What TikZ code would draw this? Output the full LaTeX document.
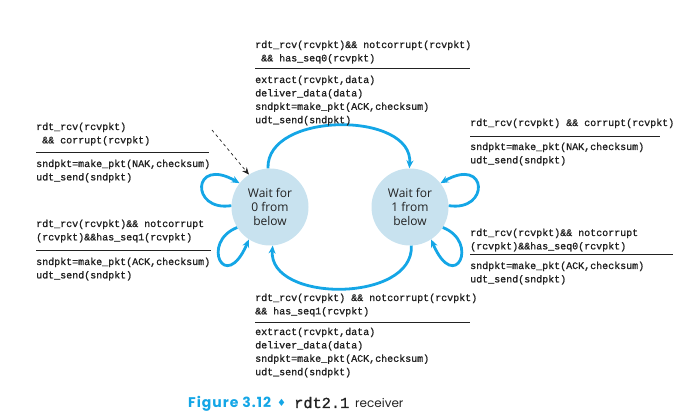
\documentclass[tikz,border=0pt]{standalone}
\usepackage{fontspec}
\usetikzlibrary{arrows.meta}
\newfontfamily\statefont{Open Sans}
\newfontfamily\codefont[FakeBold=1.2]{Liberation Mono}
\newfontfamily\capfont{Poppins}
\newfontfamily\symfont{DejaVu Sans}
\definecolor{arcblue}{HTML}{14A6E6}
\definecolor{statefill}{HTML}{C8E2EF}
\definecolor{txt}{HTML}{222222}
\tikzset{
  state/.style={circle,fill=statefill,minimum size=77pt,inner sep=0pt,align=center,
    font=\statefont\fontsize{12}{14.2}\selectfont,text=txt},
  trans/.style={draw=arcblue,line width=2.8pt,-{Stealth[length=8pt,width=7pt]}},
  code/.style={anchor=base west,inner sep=0pt,align=left,text=txt,
    font=\codefont\fontsize{10}{13.4}\selectfont},
  rulel/.style={draw=txt,line width=0.8pt},
  cappart/.style={anchor=base west,inner sep=0pt},
}
\begin{document}
\begin{tikzpicture}[x=1pt,y=1pt]
\useasboundingbox (0,0) rectangle (678,418);
% states (y = 418 - y_img)
\node[state] (L) at (270,211) {Wait for\\0 from\\below};
\node[state] (R) at (410,211) {Wait for\\1 from\\below};
% main transitions
\draw[trans] (L.93) .. controls (266,307) and (414,307) .. (R.91);
\draw[trans] (R.-88) .. controls (414,115) and (268,115) .. (L.-86);
% self loops
\draw[trans] (L.178) .. controls (190,206) and (192,262) .. (L.142);
\draw[trans] (L.-148) .. controls (200,176) and (225,123) .. (L.-123);
\draw[trans] (R.2) .. controls (490,206) and (488,262) .. (R.38);
\draw[trans] (R.-32) .. controls (480,176) and (455,123) .. (R.-57);
% initial dashed arrow
\coordinate (init) at (212,288);
\draw[dashed,line width=0.7pt,draw=txt,-{Stealth[length=7pt,width=6pt]}] (init) -- (L.123);
% (node base = baseline of last line)
% top block
\node[code] (g1) at (255,356.6) {rdt\_rcv(rcvpkt)\&\& notcorrupt(rcvpkt)\\~\&\& has\_seq0(rcvpkt)};
\draw[rulel] (255,350) -- (470,350);
\node[code] (a1) at (255,294.8) {extract(rcvpkt,data)\\deliver\_data(data)\\sndpkt=make\_pkt(ACK,checksum)\\udt\_send(sndpkt)};
% left top
\node[code] (g2) at (36,274.6) {rdt\_rcv(rcvpkt)\\~\&\& corrupt(rcvpkt)};
\draw[rulel] (36,266) -- (209,266);
\node[code] (a2) at (36,237.6) {sndpkt=make\_pkt(NAK,checksum)\\udt\_send(sndpkt)};
% right top
\node[code] (g3) at (470,292) {rdt\_rcv(rcvpkt) \&\& corrupt(rcvpkt)};
\draw[rulel] (470,282) -- (660,282);
\node[code] (a3) at (470,254.6) {sndpkt=make\_pkt(NAK,checksum)\\udt\_send(sndpkt)};
% left bottom
\node[code] (g4) at (36,177.6) {rdt\_rcv(rcvpkt)\&\& notcorrupt\\(rcvpkt)\&\&has\_seq1(rcvpkt)};
\draw[rulel] (36,168) -- (211,168);
\node[code] (a4) at (36,139.6) {sndpkt=make\_pkt(ACK,checksum)\\udt\_send(sndpkt)};
% bottom
\node[code] (g5) at (255,103.6) {rdt\_rcv(rcvpkt) \&\& notcorrupt(rcvpkt)\\\&\& has\_seq1(rcvpkt)};
\draw[rulel] (255,96) -- (470,96);
\node[code] (a5) at (255,42.8) {extract(rcvpkt,data)\\deliver\_data(data)\\sndpkt=make\_pkt(ACK,checksum)\\udt\_send(sndpkt)};
% right bottom
\node[code] (g6) at (470,168.6) {rdt\_rcv(rcvpkt)\&\& notcorrupt\\(rcvpkt)\&\&has\_seq0(rcvpkt)};
\draw[rulel] (470,164) -- (673,164);
\node[code] (a6) at (470,135.6) {sndpkt=make\_pkt(ACK,checksum)\\udt\_send(sndpkt)};
% caption
\node[cappart,font=\capfont\bfseries\fontsize{14}{16}\selectfont\addfontfeatures{LetterSpace=7},text=arcblue] (capfig) at (188,10) {Figure 3.12};
\node[cappart,font=\symfont\fontsize{10}{12}\selectfont,text=arcblue] (capdia) at (277,11) {♦};
\node[cappart,font=\codefont\fontsize{15.3}{17}\selectfont,text=txt] (caprdt) at (294,10) {rdt2.1};
\node[cappart,font=\capfont\fontsize{12}{14}\selectfont,text=txt] (caprcv) at (355,10) {receiver};
\end{tikzpicture}
\end{document}
